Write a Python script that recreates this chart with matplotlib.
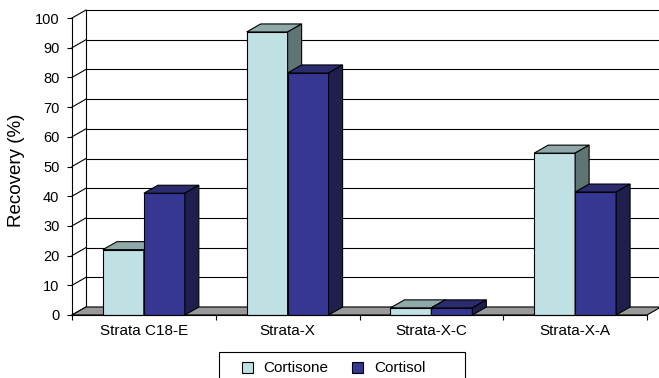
import matplotlib.pyplot as plt
from matplotlib.patches import Polygon, Rectangle

plt.rcParams['font.family'] = ['Liberation Sans', 'DejaVu Sans']

categories = ["Strata C18-E", "Strata-X", "Strata-X-C", "Strata-X-A"]
cortisone = [22, 95.3, 2.4, 54.5]
cortisol = [41, 81.5, 2.4, 41.4]
series_names = ["Cortisone", "Cortisol"]
yticks = list(range(0, 101, 10))

# face colours: front, top, side
colors = {
    "Cortisone": ("#BFE1E4", "#8FA9AA", "#5F7574"),
    "Cortisol": ("#363693", "#2B2B70", "#1F1F4E"),
}

W, H = 659, 378
fig = plt.figure(figsize=(W / 100, H / 100), dpi=100)
# front plane of the 3d box, in pixels
left, right, bottom, top = 72, 647, 315, 18
ax = fig.add_axes([left / W, 1 - bottom / H, (right - left) / W, (bottom - top) / H])
ax.set_xlim(0, len(categories))
ax.set_ylim(0, 100)

# depth offset in data units
px_x = (right - left) / len(categories)
px_y = (bottom - top) / 100
dx = 14 / px_x
dy = 8 / px_y
lw = 0.8
n = len(categories)

# back wall gridlines + side wall diagonals
for v in yticks:
    ax.plot([dx, n + dx], [v + dy, v + dy], color="black", lw=lw, zorder=1, clip_on=False)
    ax.plot([0, dx], [v, v + dy], color="black", lw=lw, zorder=1, clip_on=False)
ax.plot([dx, dx], [dy, 100 + dy], color="black", lw=lw, zorder=1, clip_on=False)

# floor
ax.add_patch(Polygon([(0, 0), (n, 0), (n + dx, dy), (dx, dy)], closed=True,
                     facecolor="#999999", edgecolor="black", lw=lw, zorder=2, clip_on=False))

bar_w = 0.285
gap = 0.5 - bar_w


def bar3d(x, v, cols):
    front, topc, side = cols
    ax.add_patch(Rectangle((x, 0), bar_w, v, facecolor=front, edgecolor="black",
                           lw=lw, zorder=3, clip_on=False))
    ax.add_patch(Polygon([(x, v), (x + bar_w, v), (x + bar_w + dx, v + dy), (x + dx, v + dy)],
                         closed=True, facecolor=topc, edgecolor="black", lw=lw, zorder=3,
                         clip_on=False))
    ax.add_patch(Polygon([(x + bar_w, 0), (x + bar_w + dx, dy), (x + bar_w + dx, v + dy),
                          (x + bar_w, v)], closed=True, facecolor=side, edgecolor="black",
                         lw=lw, zorder=3, clip_on=False))


for i in range(n):
    bar3d(i + gap, cortisone[i], colors["Cortisone"])
    bar3d(i + 0.5, cortisol[i], colors["Cortisol"])

for s in ["top", "right"]:
    ax.spines[s].set_visible(False)
for s in ["left", "bottom"]:
    ax.spines[s].set_linewidth(lw)
    ax.spines[s].set_zorder(4)

ax.set_yticks(yticks)
ax.tick_params(axis="y", length=3.6, width=lw, pad=5.5, labelsize=10.5)
ax.set_xticks(range(n + 1))
ax.set_xticklabels([])
ax.set_xticks([i + 0.5 for i in range(n)], minor=True)
ax.set_xticklabels(categories, minor=True)
ax.tick_params(axis="x", which="major", length=3.6, width=lw)
ax.tick_params(axis="x", which="minor", length=0, pad=6.5, labelsize=11)
fig.text(16.5 / W, 1 - 170 / H, "Recovery (%)", rotation=90, fontsize=13.5,
         ha="center", va="center")

# legend box (Excel style, bottom edge runs off the picture)
def fx(p):
    return p / W


def fy(p):
    return 1 - p / H


fig.add_artist(Rectangle((fx(219), fy(380)), fx(465) - fx(219), fy(352) - fy(380),
                         transform=fig.transFigure, facecolor="white", edgecolor="black",
                         lw=lw))
for name, sx, tx in [("Cortisone", 242, 263), ("Cortisol", 352, 374)]:
    fig.add_artist(Rectangle((fx(sx), fy(373)), fx(11), 11 / H, transform=fig.transFigure,
                             facecolor=colors[name][0], edgecolor="black", lw=lw))
    fig.text(fx(tx), fy(367.5), name, fontsize=11, va="center", ha="left")

fig.savefig("out.png", dpi=100)
